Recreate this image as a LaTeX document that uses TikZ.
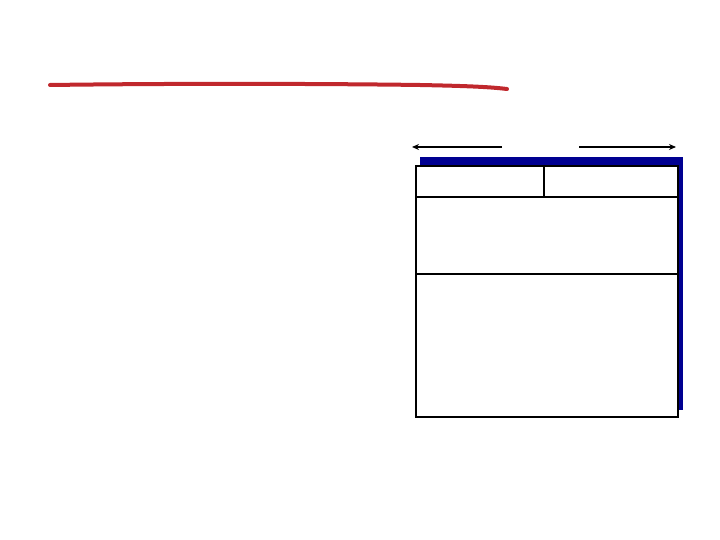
\documentclass[tikz,border=0pt]{standalone}
\usetikzlibrary{arrows.meta}
\definecolor{navyb}{RGB}{0,0,145}
\definecolor{redline}{RGB}{192,40,45}
\tikzset{
  framebox/.style={draw=black,line width=2pt,fill=white},
  divider/.style={draw=black,line width=2pt},
  widtharrow/.style={draw=black,line width=1.5pt,-{Stealth[length=7pt,width=6pt]}},
}
\begin{document}
\begin{tikzpicture}[x=1pt,y=-1pt]
\useasboundingbox (0,0) rectangle (720,540);
% red stroke
\draw[redline,line width=4pt,line cap=round] (50,85) .. controls (200,83) and (350,84) .. (420,85) .. controls (470,86) and (490,87) .. (507,89);
% shadow
\fill[navyb] (420,157) rectangle (683,410);
% main frame
\node[framebox,minimum width=262pt,minimum height=251pt,inner sep=0pt,anchor=north west] (frame) at (415,165) {};
\coordinate (h1l) at (415,197);
\coordinate (h1r) at (677,197);
\coordinate (h2l) at (415,274);
\coordinate (h2r) at (677,274);
\coordinate (vt) at (544,165);
\coordinate (vb) at (544,197);
\draw[divider] (h1l) -- (h1r);
\draw[divider] (h2l) -- (h2r);
\draw[divider] (vt) -- (vb);
% arrows
\coordinate (la) at (502,147);
\coordinate (lb) at (412,147);
\coordinate (ra) at (579,147);
\coordinate (rb) at (676,147);
\draw[widtharrow] (la) -- (lb);
\draw[widtharrow] (ra) -- (rb);
\end{tikzpicture}
\end{document}
